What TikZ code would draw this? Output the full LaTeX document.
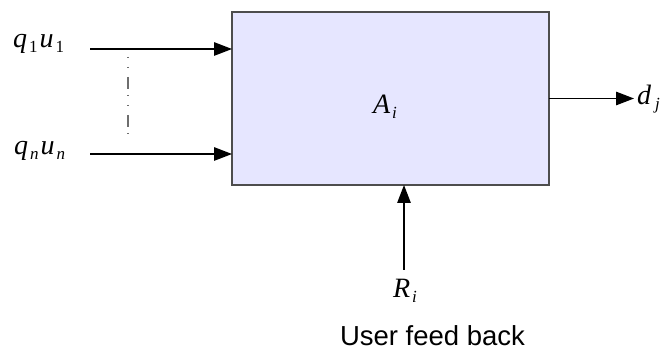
\documentclass[tikz,border=0pt]{standalone}
\usepackage{fontspec}
\setmainfont{Liberation Serif}
\newfontfamily\labelsans{Liberation Sans}
\usetikzlibrary{arrows.meta}

\definecolor{boxfill}{HTML}{E6E6FF}
\definecolor{boxline}{HTML}{4D4D4D}
\definecolor{dotline}{HTML}{6E6E6E}

% italic symbol with a dropped subscript
\newcommand\symsub[2]{\textit{#1}\kern2pt\raisebox{-5pt}{\fontsize{17}{17}\selectfont #2}}

\begin{document}
\begin{tikzpicture}[x=1pt,y=-1pt,
  every node/.style={inner sep=0pt,outer sep=0pt},
  flow/.style={line width=1.3pt,-{Triangle[length=18pt,width=13.5pt]}},
  sym/.style={font=\fontsize{28}{30}\selectfont},
  blockbox/.style={draw=boxline,fill=boxfill,line width=1.3pt,
                   minimum width=317pt,minimum height=173pt}]
\useasboundingbox (0,0) rectangle (669,352);

% central block
\node[blockbox] (A) at (390.5,98.5) {};
\node[sym,anchor=base west] (Alab) at (373,114) {\symsub{A}{\textit{i}}};

% inputs
\node[sym,anchor=base west] (q1) at (13,48) {\symsub{q}{1}\kern2pt\symsub{u}{1}};
\node[sym,anchor=base west] (qn) at (14,155) {\symsub{q}{\textit{n}}\kern2pt\symsub{u}{\textit{n}}};
\coordinate (in1) at (90,49);
\coordinate (inn) at (90,154);
\draw[flow] (in1) -- (in1 -| A.west);
\draw[flow] (inn) -- (inn -| A.west);

% ellipsis between the inputs
\coordinate (dtop) at (128,57);
\coordinate (dbot) at (128,137);
\draw[dotline,line width=1.2pt,
      dash pattern=on 1pt off 9pt on 1pt off 9pt on 12pt off 6pt] (dtop) -- (dbot);

% output
\node[sym,anchor=base west] (dj) at (637,105) {\symsub{d}{\kern2pt\textit{j}}};
\draw[flow] (A.east) -- (634,98.5);

% feedback
\node[sym,anchor=base west] (R) at (393,298) {\symsub{R}{\textit{i}}};
\coordinate (fb) at (404,270);
\draw[flow] (fb) -- (fb |- A.south);
\node[anchor=base west,font=\labelsans\fontsize{27.5}{30}\selectfont] (user) at (340,346) {User feed back};
\end{tikzpicture}
\end{document}
